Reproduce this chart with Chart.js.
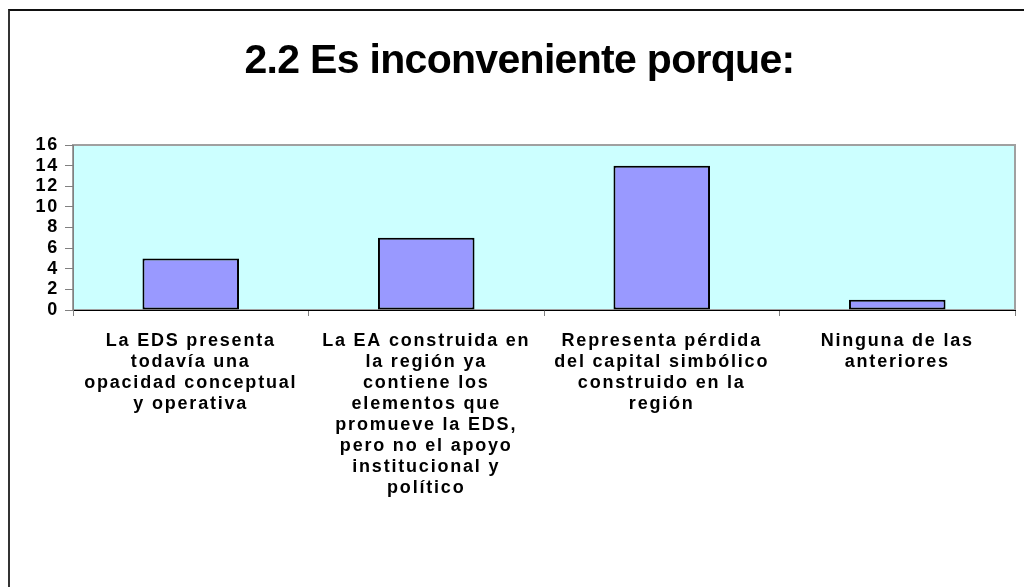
<!DOCTYPE html>
<html>
<head>
<meta charset="utf-8">
<script src="https://cdn.jsdelivr.net/npm/chart.js@4"></script>
<style>
  html, body { margin: 0; padding: 0; background: #fff; overflow: hidden; }
  #wrap { position: relative; width: 1024px; height: 587px; }
  #frame { position: absolute; left: 8px; top: 9px; width: 2000px; height: 2000px;
           border-left: 2px solid #333; border-top: 2px solid #111; }
  #graf { position: absolute; left: 0; top: 0; }
</style>
</head>
<body>
<div id="wrap">
  <div id="frame"></div>
  <canvas id="graf" width="1024" height="587"></canvas>
</div>
<script>
const titulo = '2.2 Es inconveniente porque:'

const categorias = [
  ['La EDS presenta', 'todavía una', 'opacidad conceptual', 'y operativa'],
  ['La EA construida en', 'la región ya', 'contiene los', 'elementos que', 'promueve la EDS,', 'pero no el apoyo', 'institucional y', 'político'],
  ['Representa pérdida', 'del capital simbólico', 'construido en la', 'región'],
  ['Ninguna de las', 'anteriores']
]

const valores = [5, 7, 14, 1]

const ctx = document.getElementById('graf')
const fuente = 'Liberation Sans, Arial, sans-serif'

// fondo celeste del area del grafico
const fondoPlot = {
  id: 'fondoPlot',
  beforeDraw(chart) {
    const a = chart.chartArea
    const c = chart.ctx
    c.save()
    c.fillStyle = '#ccffff'
    c.fillRect(a.left, a.top, a.right - a.left, a.bottom - a.top)
    c.strokeStyle = '#a0a0a0'
    c.lineWidth = 2
    c.strokeRect(a.left, a.top, a.right - a.left, a.bottom - a.top)
    c.restore()
    // titulo un poco mas apretado
    c.letterSpacing = '-0.7px'
  },
  // las etiquetas de los ejes van espaciadas como en Excel
  afterDatasetsDraw(chart) {
    chart.ctx.letterSpacing = '1.8px'
  },
  afterDraw(chart) {
    chart.ctx.letterSpacing = '0px'
  }
}

new Chart(ctx, {
  type: 'bar',
  data: {
    labels: categorias,
    datasets: [{
      data: valores,
      backgroundColor: '#9999ff',
      borderColor: '#000000',
      borderWidth: 2,
      borderSkipped: false,
      categoryPercentage: 1,
      barPercentage: 0.41
    }]
  },
  options: {
    responsive: false,
    animation: false,
    layout: { padding: { left: 24, right: 9, top: 0, bottom: 0 } },
    plugins: {
      legend: { display: false },
      tooltip: { enabled: false },
      title: {
        display: true,
        text: titulo,
        color: '#000',
        font: { family: fuente, size: 41, weight: 'bold', lineHeight: 1.2 },
        padding: { top: 37, bottom: 58.8 }
      }
    },
    scales: {
      x: {
        offset: true,
        grid: { display: true, drawOnChartArea: false, drawTicks: true, tickLength: 6, color: '#808080' },
        border: { display: true, color: '#000000', width: 1 },
        ticks: {
          z: 1,
          color: '#000',
          padding: 15,
          maxRotation: 0,
          autoSkip: false,
          font: { family: fuente, size: 18, weight: 'bold', lineHeight: 21 / 18 }
        },
        afterFit(scale) { scale.height = 277 }
      },
      y: {
        min: 0,
        max: 16,
        grid: { display: true, drawOnChartArea: false, drawTicks: true, tickLength: 8, color: '#808080' },
        border: { display: true, color: '#808080', width: 1 },
        ticks: {
          z: 1,
          stepSize: 2,
          autoSkip: false,
          color: '#000',
          padding: 6,
          font: { family: fuente, size: 18, weight: 'bold', lineHeight: 1 }
        },
        afterFit(scale) { scale.width = 49 }
      }
    }
  },
  plugins: [fondoPlot]
})
</script>
</body>
</html>
